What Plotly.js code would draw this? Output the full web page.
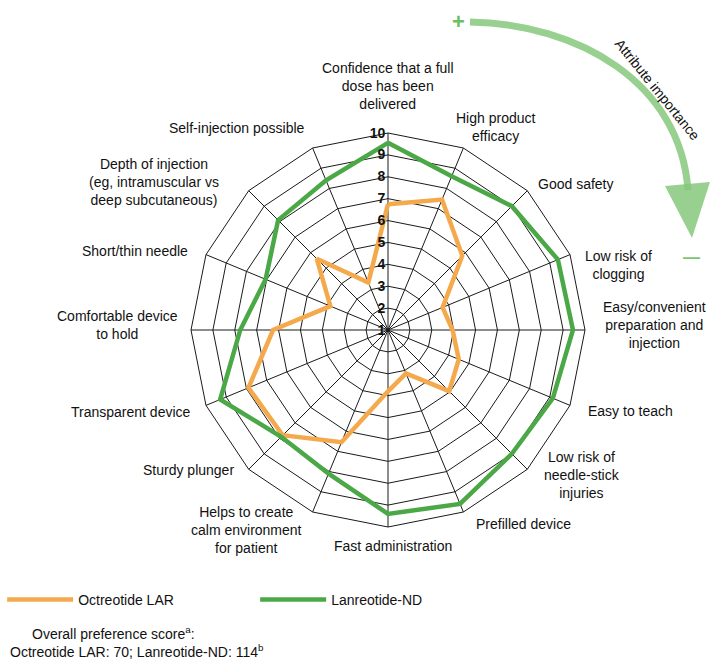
<!DOCTYPE html>
<html>
<head>
<meta charset="utf-8">
<script src="https://cdn.plot.ly/plotly-3.0.1.min.js"></script>
<style>
  html, body { margin: 0; padding: 0; background: white; }
  #myPlot { width: 716px; height: 668px; }
</style>
</head>
<body>
<div id="myPlot"></div>
<script>
// attributes, clockwise from the top (most important first)
var attributes = [
    "Confidence that a full<br>dose has been<br>delivered",
    "High product<br>efficacy",
    "Good safety",
    "Low risk of<br>clogging",
    "Easy/convenient<br>preparation and<br>injection",
    "Easy to teach",
    "Low risk of<br>needle-stick<br>injuries",
    "Prefilled device",
    "Fast administration",
    "Helps to create<br>calm environment<br>for patient",
    "Sturdy plunger",
    "Transparent device",
    "Comfortable device<br>to hold",
    "Short/thin needle",
    "Depth of injection<br>(eg, intramuscular vs<br>deep subcutaneous)",
    "Self-injection possible"
];

var octreotide = [6.75, 7.45, 5.8, 3.7, 3.95, 4.5, 4.95, 3.15, 3.8, 6.55, 7.8, 7.9, 6.25, 3.85, 5.6, 3.35];
var lanreotide = [9.55, 8.6, 9.0, 9.4, 9.45, 9.15, 9.0, 9.6, 9.4, 8.1, 7.9, 9.3, 7.75, 7.05, 8.1, 8.4];

var seriesNames = ["Octreotide LAR", "Lanreotide-ND"];
var radialTicks = [1, 2, 3, 4, 5, 6, 7, 8, 9, 10];

// where the attribute labels sit on the page (pixels)
var labelPos = [
    [388, 86], [495, 127], [576, 184], [618, 265], [654, 325], [630, 411],
    [582, 475], [523, 524], [393, 546], [246, 530], [188, 470], [131, 412],
    [117, 325], [135, 251], [154, 182], [237, 128]
];

var W = 716, H = 668;
function px(x) { return x / W; }
function py(y) { return 1 - y / H; }

var orange = "#F4AA4C";
var green = "#4BA846";
var arrowGreen = "rgba(134,200,124,0.85)";

// close the polygons
function closed(a) { return a.concat([a[0]]); }

var data = [
    {
        type: "scatterpolar",
        r: closed(octreotide),
        theta: closed(attributes),
        mode: "lines",
        name: seriesNames[0],
        line: {color: orange, width: 4.5},
        hoverinfo: "skip"
    },
    {
        type: "scatterpolar",
        r: closed(lanreotide),
        theta: closed(attributes),
        mode: "lines",
        name: seriesNames[1],
        line: {color: green, width: 4.5},
        hoverinfo: "skip"
    }
];

var annotations = attributes.map(function (a, i) {
    return {
        text: a, x: px(labelPos[i][0]), y: py(labelPos[i][1]),
        xref: "paper", yref: "paper", showarrow: false,
        xanchor: "center", yanchor: "middle", align: "center",
        font: {size: 14, color: "#111"}
    };
});

annotations.push({
    text: "Overall preference score<sup>a</sup>:",
    x: px(30), y: py(633), xref: "paper", yref: "paper", showarrow: false,
    xanchor: "left", yanchor: "middle", font: {size: 14, color: "#111"}
});
annotations.push({
    text: "Octreotide LAR: 70; Lanreotide-ND: 114<sup>b</sup>",
    x: px(8), y: py(651), xref: "paper", yref: "paper", showarrow: false,
    xanchor: "left", yanchor: "middle", font: {size: 14, color: "#111"}
});
annotations.push({
    text: "<b>+</b>", x: px(458), y: py(21), xref: "paper", yref: "paper",
    showarrow: false, xanchor: "center", yanchor: "middle",
    font: {size: 22, color: "#6cbf63"}
});
annotations.push({
    text: "<b>—</b>", x: px(691), y: py(257), xref: "paper", yref: "paper",
    showarrow: false, xanchor: "center", yanchor: "middle",
    font: {size: 17, color: "#7cc673"}
});
annotations.push({
    text: "Attribute importance", x: px(657), y: py(89), xref: "paper", yref: "paper",
    showarrow: false, xanchor: "center", yanchor: "middle", textangle: 51,
    font: {size: 14, color: "#111"}
});

var shapes = [
    {
        type: "path", xref: "paper", yref: "paper",
        path: "M " + px(470) + "," + py(22) + " C " + px(578) + "," + py(24) + " " +
              px(680) + "," + py(82) + " " + px(688) + "," + py(190),
        line: {color: arrowGreen, width: 7}
    },
    {
        type: "path", xref: "paper", yref: "paper",
        path: "M " + px(665) + "," + py(186) + " L " + px(710) + "," + py(182) +
              " L " + px(692) + "," + py(238) + " Z",
        fillcolor: arrowGreen, line: {width: 0}
    }
];

var layout = {
    width: W, height: H,
    margin: {l: 0, r: 0, t: 0, b: 0},
    paper_bgcolor: "white",
    font: {family: "Liberation Sans, Arial, sans-serif", size: 14, color: "#111"},
    showlegend: true,
    legend: {
        orientation: "h", x: 0.003, y: py(600), yanchor: "middle", xanchor: "left",
        entrywidth: 172, entrywidthmode: "pixels", itemwidth: 66,
        font: {size: 14, color: "#111"}, bgcolor: "rgba(0,0,0,0)"
    },
    polar: {
        domain: {x: [px(388 - 197), px(388 + 197)], y: [py(330 + 197), py(330 - 197)]},
        gridshape: "linear",
        bgcolor: "white",
        radialaxis: {
            range: [1, 10], tickvals: radialTicks, angle: 90, side: "counterclockwise",
            tickangle: 90, showline: false, ticks: "", gridcolor: "#1a1a1a", gridwidth: 1,
            tickfont: {size: 14, weight: "bold", color: "#111"}
        },
        angularaxis: {
            type: "category", categoryarray: attributes, direction: "clockwise", rotation: 90,
            showticklabels: false, ticks: "", gridcolor: "#1a1a1a", gridwidth: 1,
            showline: true, linecolor: "#1a1a1a", linewidth: 1
        }
    },
    annotations: annotations,
    shapes: shapes
};

Plotly.newPlot("myPlot", data, layout, {displayModeBar: false, staticPlot: true});
</script>
</body>
</html>
